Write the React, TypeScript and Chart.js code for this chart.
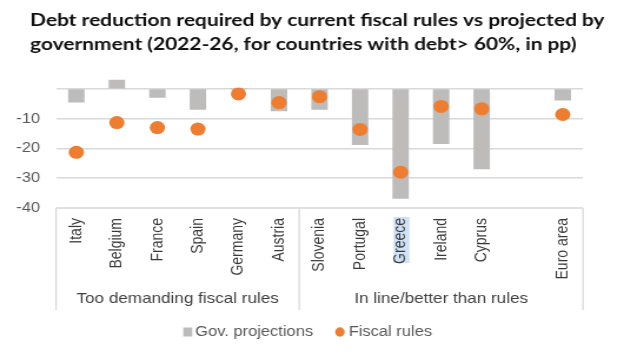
import React, { useEffect, useRef } from 'react';
import { Chart, registerables } from 'chart.js';

Chart.register(...registerables);

// ---- data ----
const categories = ['Italy', 'Belgium', 'France', 'Spain', 'Germany', 'Austria', 'Slovenia', 'Portugal', 'Greece', 'Ireland', 'Cyprus', '', 'Euro area'];
const govProjections: (number | null)[] = [-4.5, 3.0, -2.9, -6.9, 0, -7.4, -6.9, -18.7, -36.8, -18.4, -26.9, null, -3.8];
const fiscalRules: (number | null)[] = [-21.3, -11.3, -13.0, -13.5, -1.7, -4.6, -2.6, -13.6, -28.0, -5.9, -6.7, null, -8.6];
const yTicks = [0, -10, -20, -30, -40];
const seriesLabels = ['Gov. projections', 'Fiscal rules'];
const groupLabels = ['Too demanding fiscal rules', 'In line/better than rules'];
const groupFirst = [0, 6];
const groupLast = [5, 12];
const titleLines = [
  'Debt reduction required by current fiscal rules vs projected by',
  'government (2022-26, for countries with debt> 60%, in pp)',
];
const highlightedCategory = 'Greece';

// ---- style ----
const CANVAS_W = 530; // drawn narrower, then stretched to 624 (the reference is horizontally stretched)
const CANVAS_H = 357;
const DISPLAY_W = 624;
const BAR_COLOR = '#bebbbb';
const DOT_COLOR = '#ed7d31';
const GRID_COLOR = '#d9d9d9';
const SANS = '"Liberation Sans", Arial, sans-serif';

const TITLE_X = 25.5;
const TITLE_W = 488.5;
const PLOT_LEFT = 47.6;
const PLOT_RIGHT = 495.2;
const PLOT_TOP = 74;
const LEGEND_SPACE = 40;
const X_AXIS_H = 109;

const decorPlugin = {
  id: 'decor',
  beforeDraw(chart: any) {
    const { ctx, chartArea, scales } = chart;
    const x = scales.x;
    const idx = categories.indexOf(highlightedCategory);
    if (idx < 0) return;
    const cx = x.getPixelForValue(idx);
    ctx.save();
    ctx.fillStyle = '#cfe1f6';
    ctx.fillRect(cx - 6, chartArea.bottom + 9, 13.5, 46);
    ctx.restore();
  },
  afterDraw(chart: any) {
    const { ctx, chartArea, scales } = chart;
    const x = scales.x;
    ctx.save();

    // title, sized so the first line spans the same width as in the source
    ctx.font = 'bold 18px Lato, sans-serif';
    const w18 = ctx.measureText(titleLines[0]).width;
    const size = Math.min(22, (18 * TITLE_W) / w18);
    ctx.fillStyle = '#111111';
    ctx.font = `bold ${size.toFixed(2)}px Lato, sans-serif`;
    ctx.textAlign = 'left';
    ctx.textBaseline = 'middle';
    titleLines.forEach((line, i) => ctx.fillText(line, TITLE_X, 20 + i * 24));

    // category box
    const top = chartArea.bottom;
    const bottom = chartArea.bottom + 102;
    ctx.strokeStyle = GRID_COLOR;
    ctx.lineWidth = 1.6;
    ctx.beginPath();
    ctx.moveTo(chartArea.left, top);
    ctx.lineTo(chartArea.right, top);
    ctx.stroke();
    ctx.lineWidth = 1.3;
    const sep = (x.getPixelForValue(groupLast[0]) + x.getPixelForValue(groupFirst[1])) / 2;
    [chartArea.left, sep, chartArea.right].forEach((px) => {
      ctx.beginPath();
      ctx.moveTo(px, top);
      ctx.lineTo(px, bottom);
      ctx.stroke();
    });

    // group labels
    ctx.fillStyle = '#404040';
    ctx.font = `14.5px ${SANS}`;
    ctx.textAlign = 'center';
    ctx.textBaseline = 'middle';
    groupLabels.forEach((lab, i) => {
      const cx = (x.getPixelForValue(groupFirst[i]) + x.getPixelForValue(groupLast[i])) / 2;
      ctx.fillText(lab, cx, chartArea.bottom + 91);
    });

    // legend
    ctx.font = `14px ${SANS}`;
    ctx.textAlign = 'left';
    const w1 = ctx.measureText(seriesLabels[0]).width;
    const w2 = ctx.measureText(seriesLabels[1]).width;
    const sqW = 7.65, sqH = 9, gapBox = 2.5, gapItems = 18.7, cW = 8.1, gapC = 3.4;
    const total = sqW + gapBox + w1 + gapItems + cW + gapC + w2;
    let lx = chart.width / 2 - 3.7 - total / 2;
    const ly = 332;
    ctx.fillStyle = BAR_COLOR;
    ctx.fillRect(lx, ly - sqH / 2, sqW, sqH);
    lx += sqW + gapBox;
    ctx.fillStyle = '#595959';
    ctx.fillText(seriesLabels[0], lx, ly);
    lx += w1 + gapItems;
    ctx.fillStyle = DOT_COLOR;
    ctx.beginPath();
    ctx.ellipse(lx + cW / 2, ly, cW / 2, 4.75, 0, 0, Math.PI * 2);
    ctx.fill();
    lx += cW + gapC;
    ctx.fillStyle = '#595959';
    ctx.fillText(seriesLabels[1], lx, ly);
    ctx.restore();
  },
};

export default function App() {
  const canvasRef = useRef<HTMLCanvasElement | null>(null);

  useEffect(() => {
    const canvas = canvasRef.current;
    if (!canvas) return;
    const chart = new Chart(canvas, {
      type: 'bar',
      data: {
        labels: categories,
        datasets: [
          {
            type: 'bar',
            label: seriesLabels[0],
            data: govProjections,
            backgroundColor: BAR_COLOR,
            barThickness: 13.3,
            order: 2,
          } as any,
          {
            type: 'line',
            label: seriesLabels[1],
            data: fiscalRules,
            showLine: false,
            pointRadius: 6.5,
            pointHoverRadius: 6.5,
            pointBorderWidth: 0,
            pointBackgroundColor: DOT_COLOR,
            borderColor: DOT_COLOR,
            backgroundColor: DOT_COLOR,
            order: 1,
          } as any,
        ],
      },
      options: {
        responsive: false,
        animation: false,
        events: [],
        devicePixelRatio: 1,
        layout: {
          padding: { left: 0, right: CANVAS_W - PLOT_RIGHT, top: PLOT_TOP, bottom: LEGEND_SPACE },
        },
        plugins: {
          legend: { display: false },
          tooltip: { enabled: false },
          title: { display: false },
        },
        scales: {
          x: {
            grid: { display: false, drawTicks: false },
            border: { display: false },
            afterFit: (scale: any) => {
              scale.height = X_AXIS_H;
            },
            ticks: {
              minRotation: 90,
              maxRotation: 90,
              autoSkip: false,
              padding: 10,
              color: '#3a3a3a',
              font: { family: SANS, size: 14 },
            },
          },
          y: {
            min: -40,
            max: 5,
            afterBuildTicks: (scale: any) => {
              scale.ticks = yTicks.map((v) => ({ value: v }));
            },
            afterFit: (scale: any) => {
              scale.width = PLOT_LEFT;
            },
            grid: {
              color: (ctx: any) => (ctx.tick && ctx.tick.value === -40 ? 'rgba(0,0,0,0)' : GRID_COLOR),
              lineWidth: 1.6,
              drawTicks: false,
            },
            border: { display: false },
            ticks: {
              padding: 13.6,
              color: '#595959',
              font: { family: SANS, size: 14 },
              callback: (v: any) => (Number(v) === 0 ? '' : String(v)),
            },
          },
        },
      },
      plugins: [decorPlugin],
    });
    return () => chart.destroy();
  }, []);

  return (
    <div style={{ position: 'fixed', left: 0, top: 0, width: DISPLAY_W, height: CANVAS_H, background: '#fff' }}>
      <canvas
        ref={canvasRef}
        width={CANVAS_W}
        height={CANVAS_H}
        style={{ width: `${DISPLAY_W}px`, height: `${CANVAS_H}px`, display: 'block' }}
      />
    </div>
  );
}
